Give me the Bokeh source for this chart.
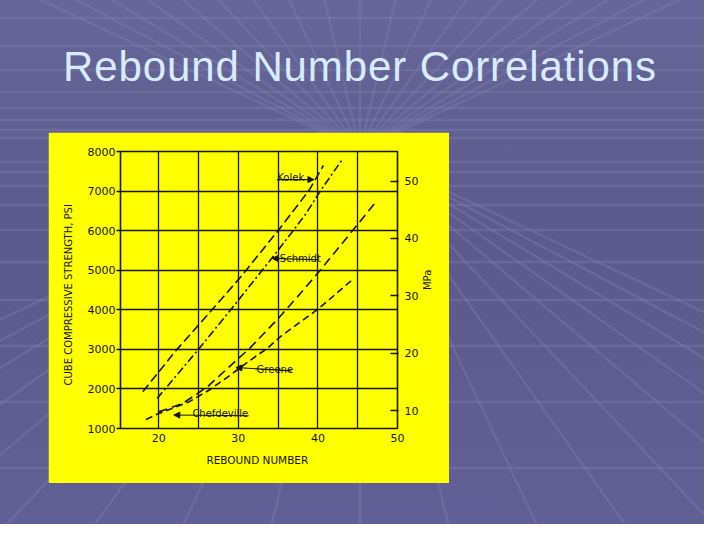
import math
from urllib.parse import quote

from bokeh.plotting import figure
from bokeh.models import Range1d, LinearAxis, FixedTicker, Label, Arrow, NormalHead, Div, Spacer
from bokeh.layouts import column, row
from bokeh.embed import file_html
from bokeh.resources import INLINE

# ---------------- data ----------------
title_text = "Rebound Number Correlations"
x_axis_label = "REBOUND  NUMBER"
y_axis_label = "CUBE  COMPRESSIVE  STRENGTH,  PSI"
y2_axis_label = "MPa"

rebound_ticks = [20, 30, 40, 50]
rebound_grid = [20, 25, 30, 35, 40, 45]
psi_ticks = [1000, 2000, 3000, 4000, 5000, 6000, 7000, 8000]
psi_grid = [2000, 3000, 4000, 5000, 6000, 7000]
mpa_ticks = [10, 20, 30, 40, 50]
psi_per_mpa = 145.04

kolek_rebound = [18.0, 22.3, 26.7, 30.3, 35.0, 38.9, 40.7]
kolek_psi = [1930, 3000, 4000, 4830, 6000, 7020, 7650]

schmidt_rebound = [19.8, 25.0, 29.0, 32.0, 34.5, 36.6, 38.5, 40.3, 43.0]
schmidt_psi = [1760, 3000, 3990, 4745, 5376, 5924, 6429, 7000, 7780]

greene_rebound = [18.4, 20.0, 23.8, 26.3, 28.4, 30.1, 31.8, 33.6, 35.5, 40.1, 44.5]
greene_psi = [1227, 1378, 1672, 1967, 2263, 2515, 2768, 3020, 3356, 4030, 4788]

chefdeville_rebound = [20.0, 23.0, 26.1, 29.9, 31.3, 35.0, 37.4, 40.3, 42.85, 44.9, 47.45]
chefdeville_psi = [1420, 1631, 2050, 2750, 3000, 3775, 4320, 5000, 5630, 6134, 6765]

curve_names = ["Kolek", "Schmidt", "Greene", "Chefdeville"]

# annotation placement (data units)
note_x = [34.9, 35.22, 32.3, 24.23]
note_y = [7354, 5308, 2490, 1379]
arrow_from_x = [34.85, 40.0, 36.65, 31.3]
arrow_from_y = [7290, 5265, 2455, 1323]
arrow_to_x = [39.5, 34.25, 29.7, 21.9]
arrow_to_y = [7290, 5300, 2540, 1340]

# ---------------- styles ----------------
INK = "#141414"
YELLOW = "#ffff00"
FONT = "DejaVu Sans"

p = figure(
    width=401, height=351,
    x_range=Range1d(15.2, 50), y_range=Range1d(1000, 8000),
    output_backend="svg", toolbar_location=None,
    background_fill_color=YELLOW, border_fill_color=YELLOW,
    min_border_left=72, min_border_right=52, min_border_top=19, min_border_bottom=55,
)
p.extra_y_ranges = {"mpa": Range1d(1000 / psi_per_mpa, 8000 / psi_per_mpa)}

p.outline_line_color = INK
p.outline_line_width = 1.6

p.xgrid.ticker = FixedTicker(ticks=rebound_grid)
p.ygrid.ticker = FixedTicker(ticks=psi_grid)
for g in (p.xgrid, p.ygrid):
    g.grid_line_color = INK
    g.grid_line_width = 1.3
    g.grid_line_alpha = 1.0

xa = p.xaxis[0]
xa.ticker = FixedTicker(ticks=rebound_ticks)
xa.axis_label = x_axis_label
xa.major_tick_out = 0
xa.major_tick_in = 0
xa.minor_tick_out = 0
xa.minor_tick_in = 0
xa.major_label_standoff = 5
xa.axis_label_standoff = 9
xa.axis_line_color = None

ya = p.yaxis[0]
ya.ticker = FixedTicker(ticks=psi_ticks)
ya.axis_label = y_axis_label
ya.major_tick_out = 4
ya.major_tick_in = 0
ya.minor_tick_out = 0
ya.minor_tick_in = 0
ya.major_label_standoff = 1
ya.axis_label_standoff = 11
ya.axis_line_color = None

ra = LinearAxis(y_range_name="mpa", ticker=FixedTicker(ticks=mpa_ticks), axis_label=y2_axis_label)
ra.major_tick_in = 7
ra.major_tick_out = 1
ra.minor_tick_in = 0
ra.minor_tick_out = 0
ra.major_label_standoff = 6
ra.axis_label_standoff = 6
ra.axis_line_color = None
ra.axis_label_orientation = math.pi / 2
p.add_layout(ra, "right")

for ax in (xa, ya, ra):
    ax.major_tick_line_color = INK
    ax.major_tick_line_width = 1.4
    ax.major_label_text_font = FONT
    ax.major_label_text_font_size = "11px"
    ax.major_label_text_color = INK
    ax.axis_label_text_font = FONT
    ax.axis_label_text_font_size = "10px"
    ax.axis_label_text_font_style = "normal"
    ax.axis_label_text_color = INK
xa.axis_label_text_font_size = "10.5px"

series = [
    (kolek_rebound, kolek_psi, "9 4"),
    (schmidt_rebound, schmidt_psi, "8 3 2 3"),
    (greene_rebound, greene_psi, "7 4"),
    (chefdeville_rebound, chefdeville_psi, "9 5"),
]
for xs, ys, dash in series:
    p.line(xs, ys, line_color=INK, line_width=1.6, line_dash=dash)

for name, lx, ly, x0, y0, x1, y1 in zip(curve_names, note_x, note_y,
                                        arrow_from_x, arrow_from_y, arrow_to_x, arrow_to_y):
    p.add_layout(Label(x=lx, y=ly, text=name, text_font=FONT, text_font_size="10px",
                       text_color=INK, text_baseline="alphabetic"))
    p.add_layout(Arrow(x_start=x0, y_start=y0, x_end=x1, y_end=y1,
                       line_color=INK, line_width=1.1,
                       end=NormalHead(size=6, fill_color=INK, line_color=INK)))

# ---------------- slide background (decoration) ----------------
W, H = 704, 524
vpx, vpy = 360, 150
hlines = [18, 46, 70, 92, 108, 120, 130, 138, 162, 172, 186, 205, 230, 262, 300, 346, 402, 468]
parts = []
for y in hlines:
    parts.append(f"<line x1='0' y1='{y}' x2='{W + 20}' y2='{y}'/>")
for k in range(-9, 10):
    xb = vpx + 92 * k
    xt = vpx - (xb - vpx) * vpy / (H + 16 - vpy)
    parts.append(f"<line x1='{xb:.1f}' y1='{H + 16}' x2='{xt:.1f}' y2='0'/>")
svg = (f"<svg xmlns='http://www.w3.org/2000/svg' width='{W}' height='{H}'>"
       f"<g stroke='rgb(125,125,175)' stroke-opacity='0.38' stroke-width='2.5'>"
       + "".join(parts) + "</g></svg>")
bg_css = {
    "background-color": "rgb(94,94,146)",
    "background-image": f"url(\"data:image/svg+xml;charset=utf-8,{quote(svg, safe='')}\"), "
                        "linear-gradient(rgb(102,102,154), rgb(90,90,140) 45%, rgb(96,96,150))",
}

title_div = Div(
    text=("<div style=\"font-family:'Liberation Sans',Arial,sans-serif;font-size:42px;"
          "line-height:42px;color:#d8ecfc;text-align:center;width:720px;padding-top:46px;"
          f"letter-spacing:0.9px;white-space:nowrap;\">{title_text}</div>"),
    width=704, height=132, margin=0,
)

body = row(Spacer(width=48, height=351, margin=0), p, width=449, height=351)
page = column(title_div, body, width=W, height=H, styles=bg_css)

open("out.html", "w").write(file_html(page, INLINE))
